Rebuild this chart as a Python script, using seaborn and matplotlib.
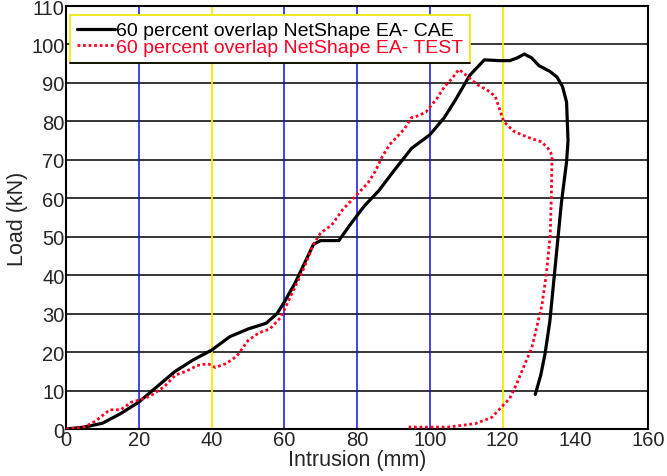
import numpy as np
import pandas as pd
import matplotlib
matplotlib.use("Agg")
import matplotlib.pyplot as plt
import seaborn as sns

# === Data ===
cae_x = [0, 5, 10, 15, 20, 25, 30, 35, 40, 45, 50, 55, 58, 60, 63, 66, 68, 70, 75,
         78, 82, 86, 90, 95, 100, 104, 107, 111, 113, 115, 119, 122, 124, 126, 128,
         130, 133, 135, 136.5, 137.6, 138, 137.6, 136.2, 134.4, 133, 131.7, 130.5, 129]
cae_y = [0, 0.5, 1.5, 4, 7, 11, 15, 18, 20.5, 24, 26, 27.5, 30, 33, 38, 44, 48, 49, 49,
         53, 58, 62, 67, 73, 76.5, 81, 85.5, 92, 94, 96, 95.8, 95.8, 96.5, 97.5, 96.5,
         94.5, 93, 91.5, 89, 85, 75, 69.5, 59, 41.6, 28, 19.7, 14, 9]

test_x = [0, 5, 8, 12, 15, 18, 20, 23, 27, 30, 33, 36, 39, 41, 44, 47, 50, 53, 56, 59,
          62, 65, 68, 70, 73, 76, 80, 83, 85, 87, 89, 91, 93, 95, 97, 99, 102, 104, 106,
          108, 110, 113, 116, 118, 120.3, 123, 125.3, 128, 130.7, 132.5, 133.6, 133.4,
          133.1, 132, 130.8, 129.9, 128, 126.2, 124, 122, 119.8, 117, 112.5, 105, 94.2]
test_y = [0, 0.5, 2, 5, 5, 7, 7.5, 8.5, 11, 14, 15, 16.5, 17, 16, 17, 19, 23, 25, 26, 29,
          35, 41, 48, 51, 53, 57, 61, 64, 67, 71, 74, 76, 78, 81, 81.5, 82.5, 86, 89, 91,
          93.5, 92, 89.6, 88, 86.5, 80, 77.5, 76.5, 75.5, 74.7, 73, 71.2, 60,
          50.3, 40, 32, 28.5, 21, 17.1, 12, 8, 5.8, 3, 1.4, 0.5, 0.5]

cae_label = "60 percent overlap NetShape EA- CAE"
test_label = "60 percent overlap NetShape EA- TEST"

x_ticks = [0, 20, 40, 60, 80, 100, 120, 140, 160]
y_ticks = [0, 10, 20, 30, 40, 50, 60, 70, 80, 90, 100, 110]
vlines_blue = [20, 60, 80, 100]
vlines_yellow = [40, 120]

sns.set_style("white")
plt.rcParams["font.family"] = ["Liberation Sans", "DejaVu Sans"]

fig = plt.figure(figsize=(6.67, 4.77), dpi=100)
ax = fig.add_axes([0.099, 0.0985, 0.8726, 0.8868])

# === Grid ===
for yv in y_ticks[1:-1]:
    ax.axhline(yv, color="black", lw=1.1, zorder=1)
for xv in vlines_blue:
    ax.axvline(xv, color="#1010e0", lw=1.1, zorder=1)
for xv in vlines_yellow:
    ax.axvline(xv, color="#f0f000", lw=1.3, zorder=1)

# === Curves ===
cae = pd.DataFrame({"x": cae_x, "y": cae_y})
test = pd.DataFrame({"x": test_x, "y": test_y})
sns.lineplot(data=cae, x="x", y="y", sort=False, estimator=None, ax=ax,
             color="black", lw=2.3, label=cae_label, zorder=3)
sns.lineplot(data=test, x="x", y="y", sort=False, estimator=None, ax=ax,
             color="#ff0022", lw=2.0, linestyle=(0, (1, 1)), label=test_label, zorder=4)

ax.set_xlim(0, 160)
ax.set_ylim(0, 110)
ax.set_xticks(x_ticks)
ax.set_yticks(y_ticks)
ax.tick_params(labelsize=14.5, length=3, direction="in", pad=1, width=1)
ax.set_xlabel("Intrusion (mm)", fontsize=15.5, labelpad=0)
ax.set_ylabel("Load (kN)", fontsize=15.5, labelpad=2)
for s in ax.spines.values():
    s.set_color("black")
    s.set_linewidth(1.5)

leg = ax.legend(loc="upper left", bbox_to_anchor=(0.0069, 0.9787), fontsize=14,
                frameon=True, fancybox=False, handlelength=1.95, handletextpad=0.08,
                borderpad=0.35, labelspacing=-0.05, borderaxespad=0,
                labelcolor=["black", "#ff0022"])
leg.get_frame().set_edgecolor("#e8e800")
leg.get_frame().set_linewidth(1.2)
leg.get_frame().set_alpha(1)

# black bottom edge on the legend box, as in the original export
fig.canvas.draw()
bb = leg.get_window_extent().transformed(ax.transAxes.inverted())
ax.plot([bb.x0, bb.x1], [bb.y0, bb.y0], transform=ax.transAxes, color="black",
        lw=1.3, zorder=6, clip_on=False)

fig.savefig("out.png", dpi=100)
